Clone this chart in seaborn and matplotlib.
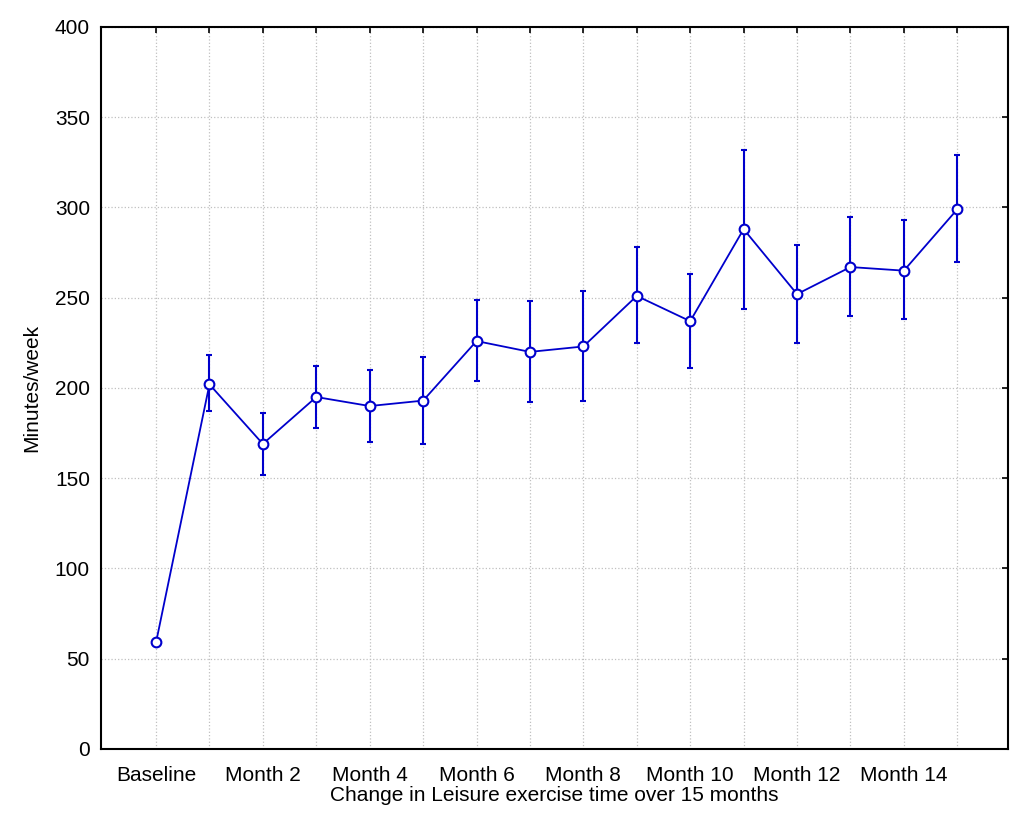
import matplotlib
matplotlib.use("Agg")
import matplotlib.pyplot as plt
import seaborn as sns
import pandas as pd
import numpy as np

labels = ["Baseline"] + [f"Month {i}" for i in range(1, 16)]
means = [59, 202, 169, 195, 190, 193, 226, 220, 223, 251, 237, 288, 252, 267, 265, 299]
upper = [59, 218, 186, 212, 210, 217, 249, 248, 254, 278, 263, 332, 279, 295, 293, 329]
lower = [59, 187, 152, 178, 170, 169, 204, 192, 193, 225, 211, 244, 225, 240, 238, 270]

sns.set_style("white")
plt.rcParams['font.family'] = ['Liberation Sans', 'DejaVu Sans']

df = pd.DataFrame({"x": np.arange(len(labels)), "y": means})

fig = plt.figure(figsize=(10.36, 8.30), dpi=100)
ax = fig.add_axes([0.0975, 0.0976, 0.8755, 0.8699])

blue = "#0000CC"
m = np.array(means)
yerr = [m - np.array(lower), np.array(upper) - m]
ax.errorbar(df["x"], df["y"], yerr=yerr, fmt="none", ecolor=blue, elinewidth=1.5,
            capsize=2.5, capthick=1.5, zorder=2)
sns.lineplot(data=df, x="x", y="y", ax=ax, color=blue, linewidth=1.3, marker="o",
             markersize=7, markerfacecolor="white", markeredgecolor=blue,
             markeredgewidth=1.5, zorder=3)

ax.set_xlim(-1.03, 15.95)
ax.set_ylim(0, 400)
ax.set_yticks(range(0, 401, 50))
ax.set_xticks(range(len(labels)))
ax.set_xticklabels([l if i % 2 == 0 else "" for i, l in enumerate(labels)], fontsize=15)
ax.tick_params(axis="y", labelsize=15)
ax.tick_params(direction="in", top=True, right=True, length=4, width=1.2,
               colors="black", labelcolor="black")
ax.tick_params(axis="x", pad=12)
ax.tick_params(axis="y", pad=8)
ax.grid(True, linestyle=":", color="#c0c0c0", linewidth=0.9)
for s in ax.spines.values():
    s.set_visible(True)
    s.set_color("black")
    s.set_linewidth(1.5)
ax.set_xlabel("Change in Leisure exercise time over 15 months", fontsize=15,
              labelpad=1, color="black")
ax.set_ylabel("Minutes/week", fontsize=15, labelpad=10, color="black")

fig.savefig("out.png", dpi=100)
